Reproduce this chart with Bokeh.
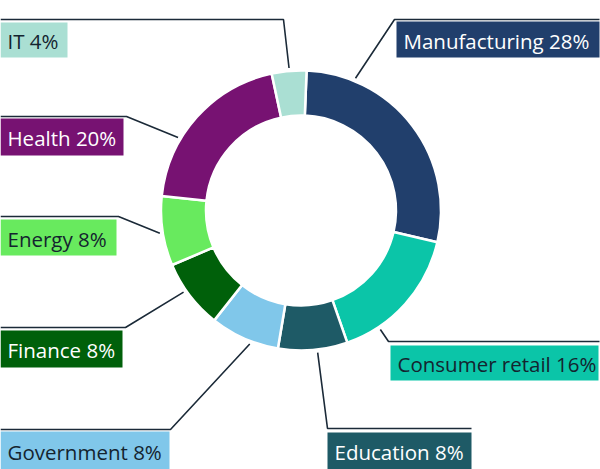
import math
from bokeh.plotting import figure
from bokeh.models import Range1d
from bokeh.core.properties import value
from bokeh.embed import file_html
from bokeh.resources import INLINE

# ---- data ----
sectors = ["Manufacturing", "Consumer retail", "Education", "Government",
           "Finance", "Energy", "Health", "IT"]
shares = [28, 16, 8, 8, 8, 8, 20, 4]
colors = ["#213F6C", "#0BC5A8", "#1E5A66", "#80C7EA",
          "#00600A", "#68EA5E", "#771272", "#AADFD3"]
text_colors = ["white", "#14242F", "white", "#14242F",
               "white", "#14242F", "white", "#14242F"]

# ---- layout (pixel coords, top-down) ----
W, H = 600, 469
CX, CY = 300.5, 210
R_OUT, R_IN = 140, 95
ROT = 2.3  # degrees clockwise offset of first slice

# label boxes: left, top, right, bottom
boxes = {
    "Manufacturing": (396, 21, 599, 57),
    "Consumer retail": (390, 345, 598, 380),
    "Education": (327, 432, 471, 469),
    "Government": (0, 431, 169, 469),
    "Finance": (0, 330, 122, 367),
    "Energy": (0, 219, 116, 255),
    "Health": (0, 118, 123, 155),
    "IT": (0, 22, 67, 57),
}
# leader line: anchor angle (clockwise from top), elbow point, end point
leaders = {
    "Manufacturing": (22.4, (394, 19), (599, 19)),
    "Consumer retail": (146.3, (388, 341), (599, 341)),
    "Education": (173.3, (327, 428), (471, 428)),
    "Government": (201.0, (170, 429), (0, 429)),
    "Finance": (235.2, (125, 327), (0, 327)),
    "Energy": (260.8, (118, 216), (0, 216)),
    "Health": (300.7, (126, 116), (0, 116)),
    "IT": (355.2, (283, 19), (0, 19)),
}
ANCHOR_R = 143


def Y(y):
    return H - y


p = figure(width=W, height=H, output_backend="svg", toolbar_location=None,
           x_range=Range1d(0, W), y_range=Range1d(0, H),
           min_border=0, outline_line_color=None)
p.axis.visible = False
p.grid.visible = False
p.background_fill_color = "white"
p.border_fill_color = "white"

total = sum(shares)
cum = 0.0
starts, ends = [], []
for s in shares:
    t1 = cum / total * 360 + ROT
    cum += s
    t2 = cum / total * 360 + ROT
    # convert clockwise-from-top to bokeh anticlockwise-from-x
    starts.append(math.radians(90 - t2))
    ends.append(math.radians(90 - t1))

p.annular_wedge(x=[CX] * len(shares), y=[Y(CY)] * len(shares),
                inner_radius=R_IN, outer_radius=R_OUT,
                start_angle=starts, end_angle=ends,
                fill_color=colors, line_color="white", line_width=2.5)

# leader lines
xs, ys = [], []
for name in sectors:
    ang, elbow, end = leaders[name]
    a = math.radians(ang)
    ax = CX + ANCHOR_R * math.sin(a)
    ay = CY - ANCHOR_R * math.cos(a)
    xs.append([ax, elbow[0], end[0]])
    ys.append([Y(ay), Y(elbow[1]), Y(end[1])])
p.multi_line(xs=xs, ys=ys, line_color="#1B2A38", line_width=1.6)

# label boxes
lefts, rights, tops, bottoms = [], [], [], []
for name in sectors:
    l, t, r, b = boxes[name]
    lefts.append(l); rights.append(r); tops.append(Y(t)); bottoms.append(Y(b))
p.quad(left=lefts, right=rights, top=tops, bottom=bottoms,
       fill_color=colors, line_color=None)

labels = [f"{n} {v}%" for n, v in zip(sectors, shares)]
tx = [boxes[n][0] + 7 for n in sectors]
ty = [Y((boxes[n][1] + boxes[n][3]) / 2 + 1) for n in sectors]
p.text(x=tx, y=ty, text=labels, text_color=text_colors,
       text_font=value("Open Sans"), text_font_size="20.5px",
       text_align="left", text_baseline="middle")

open("out.html", "w").write(file_html(p, INLINE))
